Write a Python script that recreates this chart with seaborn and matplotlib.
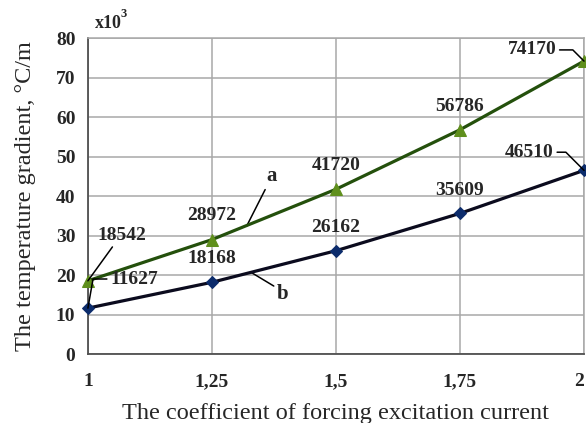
import matplotlib
matplotlib.use("Agg")
import matplotlib.pyplot as plt
import seaborn as sns
import pandas as pd

# Forcing coefficient and temperature gradient (°C/m) for the two cases
coef = [1.0, 1.25, 1.5, 1.75, 2.0]
grad_a = [18542, 28972, 41720, 56786, 74170]
grad_b = [11627, 18168, 26162, 35609, 46510]
x_tick_labels = ["1", "1,25", "1,5", "1,75", "2"]
y_ticks = [0, 10, 20, 30, 40, 50, 60, 70, 80]

df = pd.DataFrame({
    "coef": coef * 2,
    "grad": [v / 1000 for v in grad_a] + [v / 1000 for v in grad_b],
    "case": ["a"] * len(coef) + ["b"] * len(coef),
})

sns.set_style("white")
plt.rcParams["font.family"] = ["Liberation Serif", "DejaVu Serif"]

fig = plt.figure(figsize=(5.86, 4.23), dpi=100)
ax = fig.add_axes([0.150, 0.163, 0.8466, 0.747])

green_line = "#24500c"
green_mark = "#5f8f1c"
navy_line = "#0b0b1e"
navy_mark = "#0c2c6c"

sns.lineplot(data=df[df["case"] == "a"], x="coef", y="grad", ax=ax,
             color=green_line, linewidth=2.3, marker="^", markersize=8,
             markerfacecolor=green_mark, markeredgecolor=green_mark,
             clip_on=False, zorder=4)
sns.lineplot(data=df[df["case"] == "b"], x="coef", y="grad", ax=ax,
             color=navy_line, linewidth=2.3, marker="D", markersize=6,
             markerfacecolor=navy_mark, markeredgecolor=navy_mark,
             clip_on=False, zorder=4)

ax.set_xlim(1, 2)
ax.set_ylim(0, 80)
ax.set_xticks(coef)
ax.set_xticklabels(x_tick_labels)
ax.set_yticks(y_ticks)
ax.grid(True, color="#a8a8a8", linewidth=1.1)
ax.set_axisbelow(True)
for s in ["top", "right"]:
    ax.spines[s].set_color("#a8a8a8")
    ax.spines[s].set_linewidth(1.1)
for s in ["left", "bottom"]:
    ax.spines[s].set_color("#505050")
    ax.spines[s].set_linewidth(1.3)
ax.tick_params(axis="both", length=0, labelsize=14)
ax.tick_params(axis="x", pad=14)
ax.tick_params(axis="y", pad=9)
for lab in ax.get_xticklabels() + ax.get_yticklabels():
    lab.set_fontweight("bold")
# last x label sits at the right edge of the figure
ax.get_xticklabels()[-1].set_horizontalalignment("right")

ax.set_xlabel("The coefficient of forcing excitation current", fontsize=17.5, labelpad=9)
ax.set_ylabel("The temperature gradient, °C/m", fontsize=17.5, labelpad=14)

# scale factor above the value axis
ax.text(1.014, 83.8, "x10", fontsize=13, fontweight="bold", ha="left", va="center")
ax.text(1.066, 86.0, "3", fontsize=9, fontweight="bold", ha="left", va="center")

lbl = dict(fontsize=14, fontweight="bold", ha="center", va="center", zorder=5)
lead = dict(arrowstyle="-", color="black", linewidth=1.1, shrinkA=0, shrinkB=0)

# series a labels
ax.annotate(f"{grad_a[0]}", xy=(coef[0], grad_a[0] / 1000), xytext=(1.069, 30.1),
            arrowprops=dict(lead, relpos=(0.35, 0.0)), **lbl)
ax.text(coef[1], 35.2, f"{grad_a[1]}", **lbl)
ax.text(coef[2], 47.8, f"{grad_a[2]}", **lbl)
ax.text(coef[3], 62.8, f"{grad_a[3]}", **lbl)
ax.annotate(f"{grad_a[4]}", xy=(coef[4], grad_a[4] / 1000), xytext=(1.895, 77.0),
            arrowprops=dict(lead, relpos=(1.0, 0.5),
                            connectionstyle="angle,angleA=0,angleB=135,rad=0"),
            **lbl)

# series b labels
ax.annotate(f"{grad_b[0]}", xy=(coef[0], grad_b[0] / 1000), xytext=(1.093, 19.0),
            arrowprops=dict(lead, relpos=(0.0, 0.5),
                            connectionstyle="angle,angleA=0,angleB=80,rad=0"),
            **lbl)
ax.text(coef[1], 24.3, f"{grad_b[1]}", **lbl)
ax.text(coef[2], 32.1, f"{grad_b[2]}", **lbl)
ax.text(coef[3], 41.5, f"{grad_b[3]}", **lbl)
ax.annotate(f"{grad_b[4]}", xy=(coef[4], grad_b[4] / 1000), xytext=(1.890, 51.1),
            arrowprops=dict(lead, relpos=(1.0, 0.5),
                            connectionstyle="angle,angleA=0,angleB=135,rad=0"),
            **lbl)

# curve names with leader lines
ax.annotate("a", xy=(1.320, 32.4), xytext=(1.371, 45.0),
            arrowprops=dict(lead, relpos=(0.2, 0.2)), fontsize=15,
            fontweight="bold", ha="center", va="center")
ax.annotate("b", xy=(1.330, 20.6), xytext=(1.393, 15.2),
            arrowprops=dict(lead, relpos=(0.0, 0.8)), fontsize=15,
            fontweight="bold", ha="center", va="center")

fig.savefig("out.png", dpi=100)
